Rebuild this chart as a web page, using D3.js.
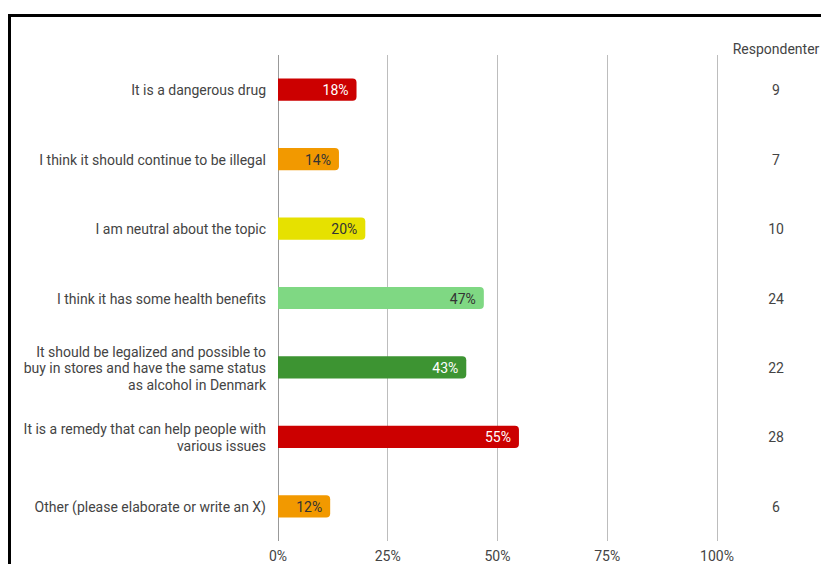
<!DOCTYPE html>
<html>
<head>
<meta charset="utf-8">
<script src="https://cdn.jsdelivr.net/npm/d3@7"></script>
<style>
  html, body { margin: 0; padding: 0; background: #fff; }
  svg { display: block; font-family: Roboto, "Noto Sans", sans-serif; }
</style>
</head>
<body>
<svg id="chart" width="821" height="564"></svg>
<script>
// Survey answers, share of respondents and respondent counts
const categories = [
  ["It is a dangerous drug"],
  ["I think it should continue to be illegal"],
  ["I am neutral about the topic"],
  ["I think it has some health benefits"],
  ["It should be legalized and possible to", "buy in stores and have the same status", "as alcohol in Denmark"],
  ["It is a remedy that can help people with", "various issues"],
  ["Other (please elaborate or write an X)"]
];
const percents = [18, 14, 20, 47, 43, 55, 12];
const respondents = [9, 7, 10, 24, 22, 28, 6];
const barColors = ["#cc0000", "#f29900", "#e6e100", "#7fd883", "#3d9432", "#cc0000", "#f29900"];
const labelColors = ["#ffffff", "#333333", "#333333", "#333333", "#ffffff", "#ffffff", "#333333"];
const tickValues = [0, 25, 50, 75, 100];
const columnTitle = "Respondenter";

const FS = 14;
const svg = d3.select("#chart");

// Frame edges
svg.append("line").attr("x1", 9).attr("x2", 821).attr("y1", 15.5).attr("y2", 15.5)
  .attr("stroke", "#000").attr("stroke-width", 3);
svg.append("line").attr("x1", 9.5).attr("x2", 9.5).attr("y1", 14).attr("y2", 564)
  .attr("stroke", "#000").attr("stroke-width", 3);

const x = d3.scaleLinear().domain([0, 100]).range([277.5, 716.5]);
const y = d3.scaleBand().domain(d3.range(categories.length)).range([55, 541]).paddingInner(0.68).paddingOuter(0.34);

// Gridlines
svg.append("g").selectAll("line").data(tickValues).join("line")
  .attr("x1", d => Math.round(x(d)) + 0.5).attr("x2", d => Math.round(x(d)) + 0.5)
  .attr("y1", 55).attr("y2", 541)
  .attr("stroke", d => d === 0 ? "#999" : "#bdbdbd").attr("stroke-width", 1);

// Tick labels via axis
const axis = d3.axisBottom(x).tickValues(tickValues).tickFormat(d => d + "%").tickSize(0).tickPadding(0);
const ax = svg.append("g").attr("transform", "translate(0,551)").call(axis);
ax.select(".domain").remove();
ax.selectAll("text").attr("font-size", FS).attr("fill", "#444").attr("font-family", "Roboto, sans-serif")
  .attr("dy", "0.71em");

// Bars with rounded right end
const r = 4;
function barPath(x0, x1, y0, h) {
  const w = x1 - x0;
  const rr = Math.min(r, w / 2);
  return `M${x0},${y0}H${x1 - rr}A${rr},${rr} 0 0 1 ${x1},${y0 + rr}V${y0 + h - rr}A${rr},${rr} 0 0 1 ${x1 - rr},${y0 + h}H${x0}Z`;
}
const rows = svg.append("g").selectAll("g").data(percents).join("g");
rows.append("path")
  .attr("d", (d, i) => barPath(x(0) + 0.5, x(d), y(i), y.bandwidth()))
  .attr("fill", (d, i) => barColors[i]);
rows.append("text")
  .attr("x", d => x(d) - 8)
  .attr("y", (d, i) => y(i) + y.bandwidth() / 2)
  .attr("dy", "0.4em")
  .attr("text-anchor", "end")
  .attr("font-size", FS)
  .attr("fill", (d, i) => labelColors[i])
  .text(d => d + "%");

// Category labels
const lineH = 16.5;
const cat = svg.append("g").selectAll("text").data(categories).join("text")
  .attr("text-anchor", "end")
  .attr("font-size", FS)
  .attr("fill", "#444");
cat.each(function(lines, i) {
  const cy = y(i) + y.bandwidth() / 2;
  const start = cy - (lines.length - 1) * lineH / 2;
  d3.select(this).selectAll("tspan").data(lines).join("tspan")
    .attr("x", 266)
    .attr("y", (l, j) => start + j * lineH)
    .attr("dy", "0.4em")
    .text(l => l);
});

// Respondent count column
svg.append("text").attr("x", 776).attr("y", 48).attr("dy", "0.4em")
  .attr("text-anchor", "middle").attr("font-size", FS).attr("fill", "#444")
  .text(columnTitle);
svg.append("g").selectAll("text").data(respondents).join("text")
  .attr("x", 776)
  .attr("y", (d, i) => y(i) + y.bandwidth() / 2)
  .attr("dy", "0.4em")
  .attr("text-anchor", "middle")
  .attr("font-size", FS)
  .attr("fill", "#444")
  .text(d => d);
</script>
</body>
</html>
